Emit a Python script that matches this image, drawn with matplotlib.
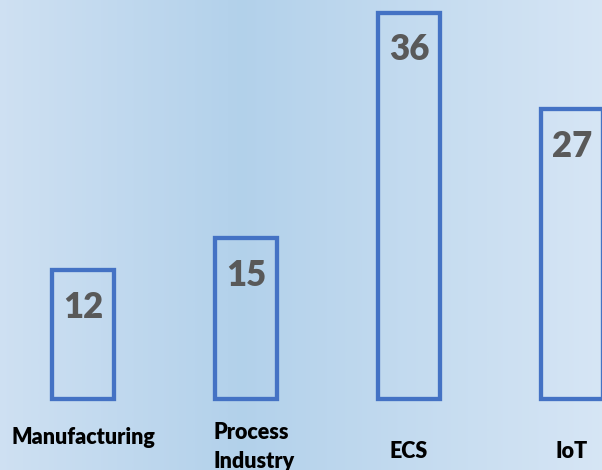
import numpy as np
import matplotlib.pyplot as plt
from matplotlib.colors import LinearSegmentedColormap

# DATA

categories = ["Manufacturing", "Process\nIndustry", "ECS", "IoT"]
values = [12, 15, 36, 27]

# LAYOUT (label baselines in pixels from top, horizontal alignment)
label_y_px = [444, 439, 458, 458]
label_ha = ["center", "left", "center", "center"]

W, H = 602, 470
DPI = 100

fig = plt.figure(figsize=(W / DPI, H / DPI), dpi=DPI)
ax = fig.add_axes([0, 0, 1, 1])

x = np.arange(len(categories))
px_per_x = 163.0
px_per_y = 10.72
base_px = 398.5
x0_px = 83.0

xlim = (-x0_px / px_per_x, (W - x0_px) / px_per_x)
ylim = (-(H - base_px) / px_per_y, base_px / px_per_y)

# BACKGROUND GRADIENT

bg = LinearSegmentedColormap.from_list(
    "bg",
    [(0.0, (0.81, 0.88, 0.95)),
     (0.40, (0.70, 0.82, 0.92)),
     (1.0, (0.84, 0.90, 0.96))]
)
grad = np.linspace(0, 1, 512).reshape(1, -1)
ax.imshow(grad, cmap=bg, aspect="auto",
          extent=[xlim[0], xlim[1], ylim[0], ylim[1]], zorder=0)

# BARS

bar_width = 62 / px_per_x
bars = ax.bar(x, values, width=bar_width, fill=False,
              edgecolor="#4472C4", linewidth=3.1, zorder=2)
for b in bars:
    b.set_joinstyle("miter")

# VALUE LABELS

for xi, v in zip(x, values):
    ax.annotate(str(v), xy=(xi, v), xytext=(0, -34.5),
                textcoords="offset points", ha="center", va="baseline",
                fontsize=25, fontweight="heavy", color="#595959",
                family="Lato", zorder=3)

# CATEGORY LABELS

for xi, cat, ypx, ha in zip(x, categories, label_y_px, label_ha):
    xpos = xi if ha == "center" else xi - bar_width / 2 - 0.01
    for k, line in enumerate(cat.split("\n")):
        yk = (base_px - (ypx + 29 * k)) / px_per_y
        ax.text(xpos, yk, line, ha=ha, va="baseline", fontsize=15.5,
                fontweight="heavy", color="black", family="Lato")

ax.set_xlim(xlim)
ax.set_ylim(ylim)
ax.axis("off")

fig.savefig("out.png", dpi=DPI)
